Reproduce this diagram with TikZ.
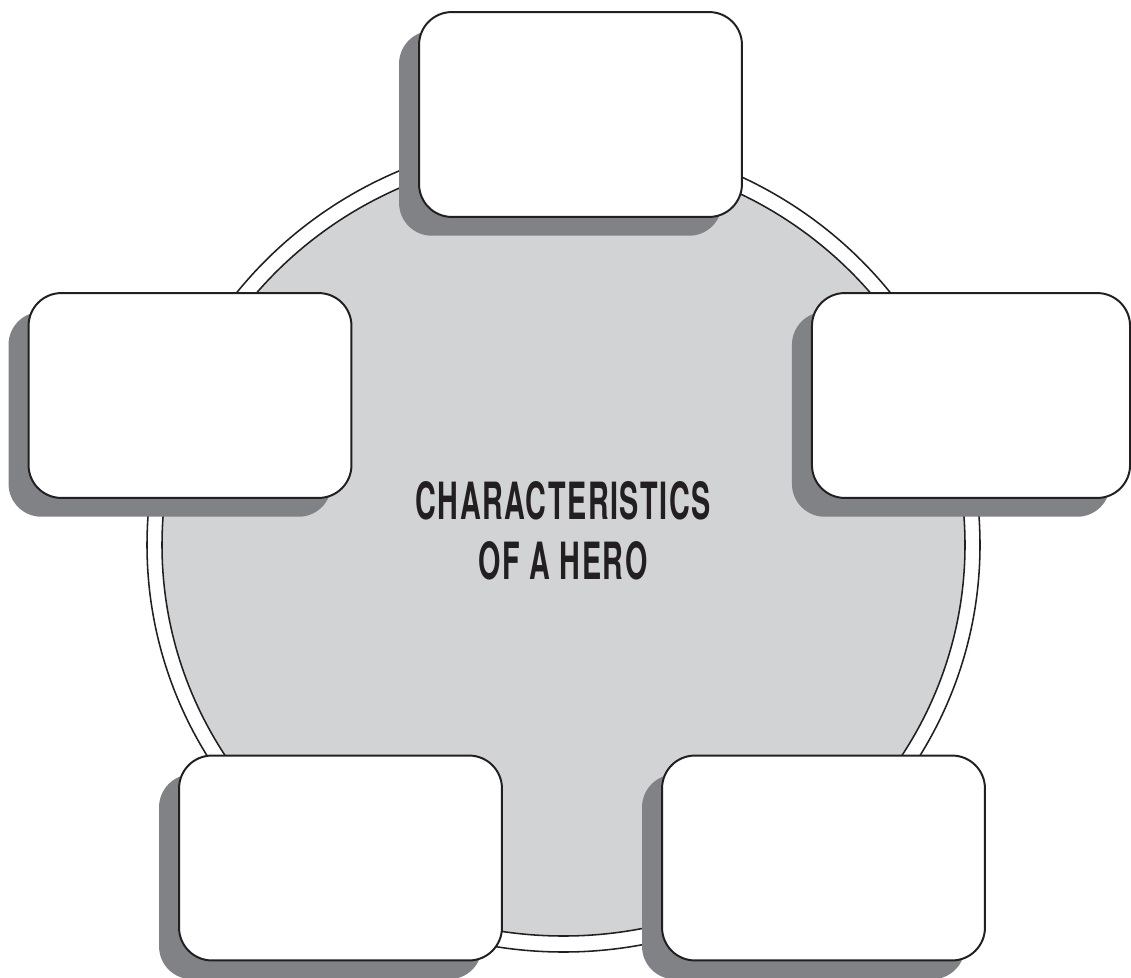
\documentclass[tikz,border=0pt]{standalone}
\usepackage{fontspec}
\usetikzlibrary{positioning,shadows}
\newfontfamily\herofont[FakeStretch=0.56,LetterSpace=3]{TeX Gyre Heros}
\definecolor{ink}{HTML}{231F20}
\definecolor{disc}{HTML}{D1D3D4}
\definecolor{slate}{HTML}{808285}
\tikzset{
  card/.style={draw=ink,line width=1.4pt,fill=white,rounded corners=0.82cm,
    minimum width=8.07cm,minimum height=5.12cm,inner sep=0pt,
    general shadow={fill=slate,shadow xshift=-0.5cm,shadow yshift=-0.47cm}},
  rim/.style={draw=ink,line width=1.1pt}
}
\begin{document}
\begin{tikzpicture}[x=0.025cm,y=-0.025cm]
\useasboundingbox (0,0) rectangle (1131,978);
% the disc behind the cards
\filldraw[rim,fill=white] (563.5,545) ellipse [x radius=416.5,y radius=407];
\filldraw[rim,fill=disc] (563.5,545) ellipse [x radius=401.5,y radius=391];
\node[font=\herofont\bfseries\fontsize{36.5}{42.7}\selectfont,text=ink,align=center]
  (title) at (563,531) {CHARACTERISTICS\\OF A HERO};
% five empty cards
\node[card] (top) at (580.5,114.5) {};
\node[card] (left) at (190,395.5) {};
\node[card,minimum width=7.95cm] (right) at (971,395.5) {};
\node[card] (lowleft) at (340.5,858) {};
\node[card] (lowright) at (823.5,858) {};
\end{tikzpicture}
\end{document}
